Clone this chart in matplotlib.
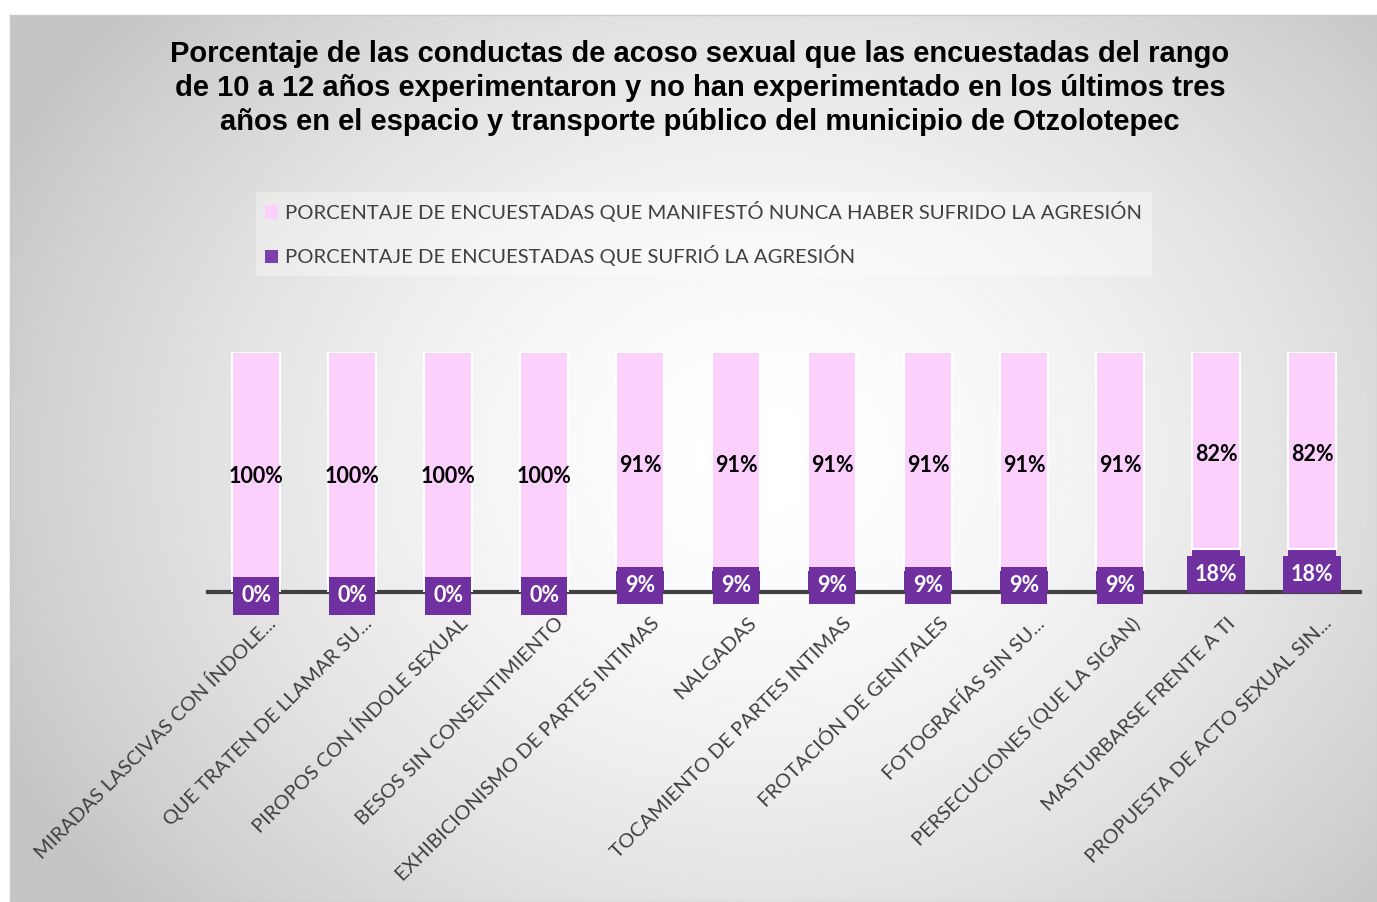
import matplotlib
matplotlib.use("Agg")
import matplotlib.pyplot as plt
import matplotlib.transforms as mtransforms
import numpy as np
from matplotlib.patches import Patch

# datos
categorias = [
    "MIRADAS LASCIVAS CON ÍNDOLE...",
    "QUE TRATEN DE LLAMAR SU...",
    "PIROPOS CON ÍNDOLE SEXUAL",
    "BESOS SIN CONSENTIMIENTO",
    "EXHIBICIONISMO DE PARTES INTIMAS",
    "NALGADAS",
    "TOCAMIENTO DE PARTES INTIMAS",
    "FROTACIÓN DE GENITALES",
    "FOTOGRAFÍAS SIN SU...",
    "PERSECUCIONES (QUE LA SIGAN)",
    "MASTURBARSE FRENTE A TI",
    "PROPUESTA DE ACTO SEXUAL SIN...",
]
sufrio = [0, 0, 0, 0, 9, 9, 9, 9, 9, 9, 18, 18]
nunca = [100, 100, 100, 100, 91, 91, 91, 91, 91, 91, 82, 82]

serie_nunca = "PORCENTAJE DE ENCUESTADAS QUE MANIFESTÓ NUNCA HABER SUFRIDO LA AGRESIÓN"
serie_sufrio = "PORCENTAJE DE ENCUESTADAS QUE SUFRIÓ LA AGRESIÓN"
titulo = ("Porcentaje de las conductas de acoso sexual que las encuestadas del rango\n"
          "de 10 a 12 años experimentaron y no han experimentado en los últimos tres\n"
          "años en el espacio y transporte público del municipio de Otzolotepec")

ROSA = "#FCD0FC"
MORADO = "#7030A0"
GRIS = "#404040"
FUENTE = ["Lato", "DejaVu Sans"]

W, H = 1377, 902
fig = plt.figure(figsize=(W / 100, H / 100), dpi=100)
fig.patch.set_facecolor("white")

# fondo con degradado radial
bg = fig.add_axes([10 / W, 0, (W - 10) / W, (H - 15) / H], zorder=-5)
yy, xx = np.mgrid[0:1:300j, 0:1:450j]
r = np.sqrt(((xx - 0.55) / 0.62) ** 2 + ((yy - 0.5) / 0.78) ** 2)
val = 1 - 0.23 * np.clip(r, 0, 1) ** 1.6
bg.imshow(val, cmap="gray", vmin=0, vmax=1, aspect="auto", extent=[0, 1, 0, 1],
          interpolation="bilinear")
bg.set_xticks([])
bg.set_yticks([])
for s in bg.spines.values():
    s.set_color("#c8c8c8")
    s.set_linewidth(1)

ax = fig.add_axes([208 / W, 1 - 592 / H, 1152 / W, 240 / H])
ax.set_facecolor("none")
x = np.arange(len(categorias))

ax.bar(x, sufrio, width=0.5, color=MORADO, zorder=2)
ax.bar(x, nunca, width=0.5, bottom=sufrio, color=ROSA, edgecolor="white",
       linewidth=1.5, zorder=2)

baja = ax.transData + mtransforms.ScaledTranslation(0, -4 / 100, fig.dpi_scale_trans)
for i in range(len(x)):
    ax.text(x[i], sufrio[i] + nunca[i] / 2, f"{nunca[i]}%", ha="center", va="center",
            fontsize=15.5, fontweight="bold", color="black", family=FUENTE, zorder=4,
            transform=baja)
    ax.text(x[i], sufrio[i] / 2, f"{sufrio[i]}%", ha="center", va="center",
            fontsize=15.5, fontweight="bold", color="white", family=FUENTE, zorder=5,
            clip_on=False, transform=baja,
            bbox=dict(boxstyle="square,pad=0.38", fc=MORADO, ec="none"))

ax.set_xlim(-0.5, len(x) - 0.5)
ax.set_ylim(0, 100)
for s in ["top", "right", "left"]:
    ax.spines[s].set_visible(False)
ax.spines["bottom"].set_color(GRIS)
ax.spines["bottom"].set_linewidth(3)
ax.spines["bottom"].set_zorder(1)
ax.set_yticks([])
ax.set_xticks(x)
ax.set_xticklabels(categorias, rotation=45, ha="right", va="top",
                   rotation_mode="anchor", fontsize=14.5, color=GRIS, family=FUENTE)
ax.tick_params(axis="x", length=0, pad=16)
desp = mtransforms.ScaledTranslation(11 / 100, 0, fig.dpi_scale_trans)
for lab in ax.get_xticklabels():
    lab.set_transform(lab.get_transform() + desp)

fig.text(700 / W, 1 - 88 / H, titulo, ha="center", va="center", fontsize=21,
         fontweight="bold", family=["Liberation Sans", "DejaVu Sans"],
         linespacing=1.28)

handles = [Patch(facecolor=ROSA, edgecolor="none"),
           Patch(facecolor="#7E3FAE", edgecolor="none")]
leg = fig.legend(handles, [serie_nunca, serie_sufrio], loc="upper left",
                 bbox_to_anchor=(256 / W, 1 - 192 / H), frameon=True,
                 prop={"family": FUENTE, "size": 14.6}, labelcolor=GRIS,
                 handlelength=0.65, handleheight=0.65, handletextpad=0.35,
                 labelspacing=1.15, borderpad=0.45, borderaxespad=0,
                 fancybox=False)
leg.get_frame().set_facecolor("white")
leg.get_frame().set_alpha(0.35)
leg.get_frame().set_edgecolor("none")

fig.savefig("out.png", dpi=100)
